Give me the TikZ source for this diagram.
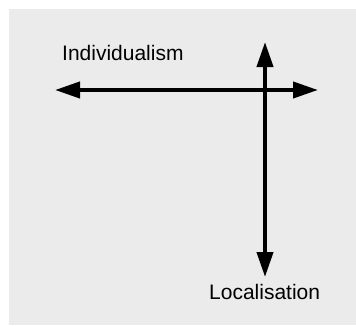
\documentclass[tikz,border=0pt]{standalone}
\usepackage{fontspec}
\setmainfont{Liberation Sans}
\usetikzlibrary{arrows.meta}
\definecolor{bggray}{RGB}{235,235,235}
\begin{document}
\begin{tikzpicture}[x=1pt,y=1pt,
  axis/.style={line width=4pt,{Triangle[length=25pt,width=16pt]}-{Triangle[length=25pt,width=16pt]}},
  lbl/.style={inner sep=0pt,anchor=base west,font=\fontsize{21}{25}\selectfont}]
\useasboundingbox (0,0) rectangle (356,325);
\fill[bggray] (9,0) rectangle (356,316);
\coordinate (hl) at (55,235);
\coordinate (hr) at (318,235);
\coordinate (vt) at (265,283);
\coordinate (vb) at (265,48);
\draw[axis] (hl) -- (hr);
\draw[axis] (vb) -- (vt);
\node[lbl] (ind) at (62,265) {Individualism};
\node[lbl] (loc) at (209,26) {Localisation};
\end{tikzpicture}
\end{document}
